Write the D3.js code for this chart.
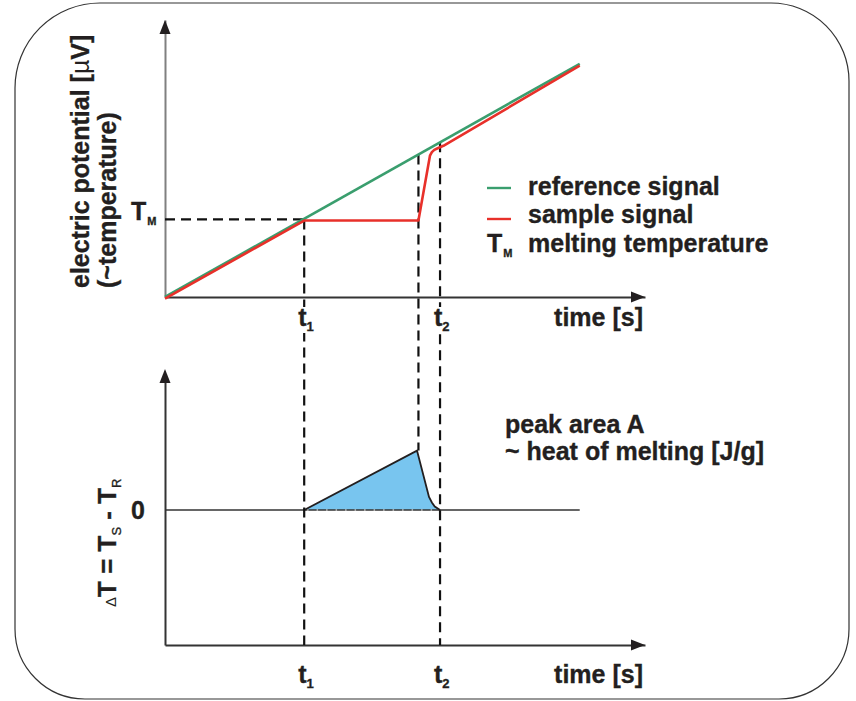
<!DOCTYPE html>
<html><head><meta charset="utf-8">
<script src="https://cdn.jsdelivr.net/npm/d3@7/dist/d3.min.js"></script>
<style>
html,body{margin:0;padding:0;background:#fff;}
svg{display:block;}
text{font-family:"Liberation Sans",Arial,Helvetica,sans-serif;font-weight:bold;fill:#231f20;stroke:#231f20;stroke-width:0.35px;}
</style></head>
<body>
<svg id="c" width="856" height="701"></svg>
<script>
// ---- data ----
const T1 = 29, T_ONSET = 52.8, T2 = 57.3, T_END = 86.4;
const TM = 28;
const referenceSignal = [[0, 0], [86.4, 84.2]];
const sampleSignal = [[0, -0.6], [29, 27.6], [52.8, 27.6], [55.2, 51.0], [55.6, 52.3], [56.1, 53.1], [56.8, 53.7], [58, 54.6], [86.4, 83.5]];
const peakCurve = [[29, 0], [52.5, 22], [55, 4.8], [55.6, 2.8], [56.2, 1.3], [57.3, 0]];
const legendItems = ["reference signal", "sample signal", "melting temperature"];

const svg = d3.select("#c");

// frame with rounded corners
const fx0 = 15, fy0 = 3, fx1 = 849, fy1 = 699;
const rTL = 85, rTR = 78, rBR = 70, rBL = 70;
svg.append("path")
  .attr("d", `M${fx0 + rTL},${fy0} L${fx1 - rTR},${fy0} A${rTR},${rTR} 0 0 1 ${fx1},${fy0 + rTR} L${fx1},${fy1 - rBR} A${rBR},${rBR} 0 0 1 ${fx1 - rBR},${fy1} L${fx0 + rBL},${fy1} A${rBL},${rBL} 0 0 1 ${fx0},${fy1 - rBL} L${fx0},${fy0 + rTL} A${rTL},${rTL} 0 0 1 ${fx0 + rTL},${fy0} Z`)
  .attr("fill", "none").attr("stroke", "#333").attr("stroke-width", 1.2);

// scales
const x = d3.scaleLinear().domain([0, 100]).range([165, 645]);
const yTop = d3.scaleLinear().domain([0, 100]).range([297, 20]);
const yBot = d3.scaleLinear().domain([-50, 50]).range([645, 375]);

const line = (ys) => d3.line().x(d => x(d[0])).y(d => ys(d[1]));

// ---- axes ----
function arrowUp(xp, yp, col) {
  svg.append("path").attr("d", `M${xp},${yp} L${xp - 5.5},${yp + 14} L${xp + 5.5},${yp + 14} Z`).attr("fill", col);
}
function arrowRight(xp, yp, col) {
  svg.append("path").attr("d", `M${xp},${yp} L${xp - 14},${yp - 5.5} L${xp - 14},${yp + 5.5} Z`).attr("fill", col);
}

const gTopX = svg.append("g").attr("transform", `translate(0,${yTop(0)})`)
  .call(d3.axisBottom(x).tickValues([]).tickSizeOuter(0));
gTopX.select(".domain").attr("stroke", "#333").attr("stroke-width", 2);
const gTopY = svg.append("g").attr("transform", `translate(${x(0)},0)`)
  .call(d3.axisLeft(yTop).tickValues([]).tickSizeOuter(0));
gTopY.select(".domain").attr("stroke", "#808080").attr("stroke-width", 2);
arrowUp(x(0), 20, "#231f20");
arrowRight(645, yTop(0), "#231f20");

const gBotX = svg.append("g").attr("transform", `translate(0,${yBot(-50)})`)
  .call(d3.axisBottom(x).tickValues([]).tickSizeOuter(0));
gBotX.select(".domain").attr("stroke", "#333").attr("stroke-width", 2);
const gBotY = svg.append("g").attr("transform", `translate(${x(0)},0)`)
  .call(d3.axisLeft(yBot).tickValues([]).tickSizeOuter(0));
gBotY.select(".domain").attr("stroke", "#333").attr("stroke-width", 2);
arrowUp(x(0), 369, "#231f20");
arrowRight(645, yBot(-50), "#231f20");

// ---- bottom chart peak ----
svg.append("path").datum(peakCurve.concat([[T1, 0]]))
  .attr("d", line(yBot)).attr("fill", "#78c5ef").attr("stroke", "none");
svg.append("path").datum([[0, 0], [T_END, 0]])
  .attr("d", line(yBot)).attr("stroke", "#333").attr("stroke-width", 1.6).attr("fill", "none");
svg.append("path").datum([[T1 + 0.6, 0], [T2 - 0.6, 0]])
  .attr("d", line(yBot)).attr("stroke", "#fff").attr("stroke-width", 1.2).attr("stroke-dasharray", "1.5,8").attr("fill", "none");
svg.append("path").datum(peakCurve)
  .attr("d", line(yBot)).attr("stroke", "#231f20").attr("stroke-width", 1.8).attr("fill", "none");

// ---- dashed guides ----
const DASH = "10,6";
svg.append("path").datum([[0, TM], [T1, TM]]).attr("d", line(yTop))
  .attr("stroke", "#111").attr("stroke-width", 2.2).attr("stroke-dasharray", DASH).attr("fill", "none");
function vdash(t, yStart, yEnd) {
  svg.append("line").attr("x1", x(t)).attr("x2", x(t)).attr("y1", yStart).attr("y2", yEnd)
    .attr("stroke", "#111").attr("stroke-width", 2.2).attr("stroke-dasharray", DASH);
}
vdash(T1, yTop(TM), yBot(-50));
vdash(T_ONSET, yTop(84.2 / 86.4 * T_ONSET), yBot(22));
vdash(T2, yTop(84.2 / 86.4 * T2), yBot(-50));

// ---- top chart signals ----
svg.append("path").datum(referenceSignal).attr("d", line(yTop))
  .attr("stroke", "#3a9e6e").attr("stroke-width", 2.6).attr("fill", "none");
svg.append("path").datum(sampleSignal).attr("d", line(yTop))
  .attr("stroke", "#e8302a").attr("stroke-width", 2.6).attr("fill", "none").attr("stroke-linejoin", "round");

// ---- labels ----
const FS = 25;
function tLabel(t, yb, sub, bg) {
  if (bg) svg.append("rect").attr("x", x(t) - 8).attr("y", yb - 19).attr("width", 18).attr("height", 26).attr("fill", "#fff");
  const tx = svg.append("text").attr("x", x(t) - 6).attr("y", yb).attr("font-size", FS);
  tx.append("tspan").text("t");
  tx.append("tspan").attr("font-size", 13).attr("dy", 5).text(sub);
}
tLabel(T1, 326, "1", true); tLabel(T2, 326, "2", true);
tLabel(T1, 683, "1", false); tLabel(T2, 683, "2", false);
svg.append("text").attr("x", 643).attr("y", 326).attr("text-anchor", "end").attr("font-size", FS).text("time [s]");
svg.append("text").attr("x", 643).attr("y", 683).attr("text-anchor", "end").attr("font-size", FS).text("time [s]");

const tmL = svg.append("text").attr("x", 131).attr("y", 220).attr("font-size", FS);
tmL.append("tspan").text("T");
tmL.append("tspan").attr("font-size", 11).attr("dy", 5).attr("dx", 1).text("M");

const yl = svg.append("text").attr("transform", "translate(89,288) rotate(-90)").attr("font-size", FS);
yl.append("tspan").text("electric potential [");
yl.append("tspan").attr("font-weight", "normal").attr("stroke-width", 0).text("µ");
yl.append("tspan").text("V]");
svg.append("text").attr("transform", "translate(116,288) rotate(-90)").attr("font-size", FS).text("(~temperature)");

const yb = svg.append("text").attr("transform", "translate(116,607) rotate(-90)").attr("font-size", 26);
yb.append("tspan").attr("font-weight", "normal").attr("stroke-width", 0).attr("font-size", 15).text("Δ");
yb.append("tspan").text("T = T");
yb.append("tspan").attr("font-size", 13).attr("font-weight", "normal").attr("dy", 5).text("S");
yb.append("tspan").attr("dy", -5).text(" - T");
yb.append("tspan").attr("font-size", 13).attr("font-weight", "normal").attr("dy", 5).text("R");

svg.append("text").attr("x", 145).attr("y", 519).attr("text-anchor", "end").attr("font-size", FS).text("0");

svg.append("line").attr("x1", 487).attr("x2", 511).attr("y1", 188).attr("y2", 188).attr("stroke", "#3a9e6e").attr("stroke-width", 2.4);
svg.append("line").attr("x1", 487).attr("x2", 511).attr("y1", 219).attr("y2", 219).attr("stroke", "#e8302a").attr("stroke-width", 2.4);
const legY = [195, 223, 252];
legendItems.forEach((s, i) => {
  svg.append("text").attr("x", 528).attr("y", legY[i]).attr("font-size", FS).text(s);
});
const tmLeg = svg.append("text").attr("x", 487).attr("y", 252).attr("font-size", FS);
tmLeg.append("tspan").text("T");
tmLeg.append("tspan").attr("font-size", 11).attr("dy", 5).attr("dx", 1).text("M");

svg.append("text").attr("x", 505).attr("y", 433).attr("font-size", FS).text("peak area A");
svg.append("text").attr("x", 505).attr("y", 460).attr("font-size", FS).text("~ heat of melting [J/g]");
</script>
</body></html>
